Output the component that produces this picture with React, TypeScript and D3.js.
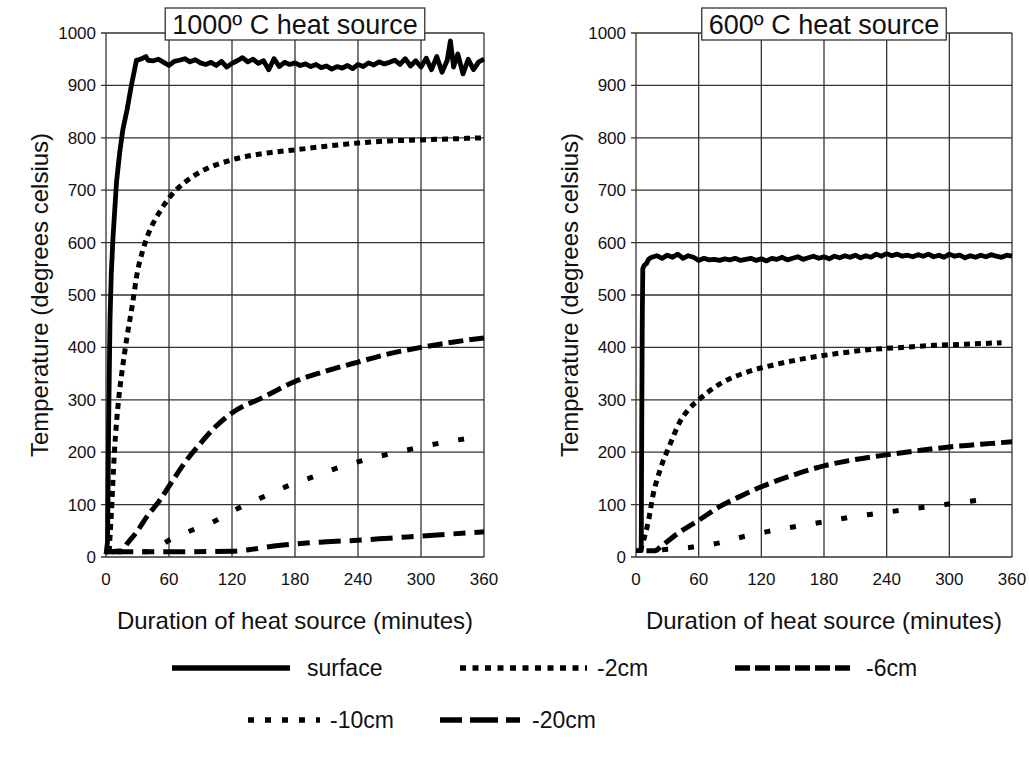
import React, { useRef, useEffect } from 'react';
import * as d3 from 'd3';

// tick labels
const xTicks = [0, 60, 120, 180, 240, 300, 360];
const yTicks = [0, 100, 200, 300, 400, 500, 600, 700, 800, 900, 1000];
const panelTitles = ['1000º C heat source', '600º C heat source'];
const seriesNames = ['surface', '-2cm', '-6cm', '-10cm', '-20cm'];

// [minutes, degrees C]
const surface1000 = [
  [0, 5], [1.5, 30], [2.5, 250], [3.8, 452], [5, 540], [6.7, 611], [10, 715], [13, 771],
  [16, 815], [20, 853], [24, 898], [27, 928], [29, 948], [30, 948], [35, 952], [38, 955],
  [40, 948], [45, 947], [50, 950], [55, 944], [60, 938], [65, 946], [70, 948], [75, 951],
  [80, 945], [85, 949], [90, 943], [95, 940], [100, 944], [105, 938], [110, 946], [115, 935],
  [120, 942], [125, 947], [130, 953], [135, 945], [140, 950], [145, 942], [150, 947],
  [155, 930], [160, 951], [165, 936], [170, 944], [175, 940], [180, 943], [185, 938],
  [190, 941], [195, 936], [200, 940], [205, 934], [210, 937], [215, 931], [220, 936],
  [225, 933], [230, 938], [235, 932], [240, 940], [245, 936], [250, 943], [255, 939],
  [260, 945], [265, 941], [270, 944], [275, 948], [280, 940], [285, 951], [290, 937],
  [295, 947], [300, 935], [305, 952], [310, 930], [315, 955], [320, 925], [325, 948],
  [328, 985], [331, 935], [335, 960], [340, 922], [345, 950], [350, 930], [355, 945], [360, 950],
];
const cm2_1000 = [
  [3, 10], [5, 80], [8, 200], [12, 300], [15, 350], [20, 420], [25, 480], [30, 545],
  [35, 585], [40, 615], [50, 655], [60, 685], [75, 715], [90, 735], [120, 758], [150, 770],
  [180, 777], [210, 784], [240, 790], [270, 794], [300, 796], [330, 798], [360, 800],
];
const cm6_1000 = [
  [2, 10], [15, 12], [20, 25], [30, 50], [40, 80], [50, 105], [60, 135], [75, 180],
  [90, 217], [105, 250], [120, 275], [150, 305], [180, 335], [210, 355], [240, 372],
  [270, 388], [300, 400], [330, 410], [360, 418],
];
const cm10_1000 = [
  [10, 10], [45, 10], [56, 27], [78, 48], [102, 67], [126, 93], [150, 115], [175, 137],
  [200, 155], [225, 173], [250, 187], [275, 199], [300, 210], [325, 220], [350, 228],
];
const cm20_1000 = [
  [5, 10], [60, 10], [120, 11], [140, 15], [160, 21], [180, 25], [210, 29], [240, 32],
  [270, 36], [300, 40], [330, 44], [360, 48],
];

// [minutes, degrees C]
const surface600 = [
  [0, 12], [5, 12], [5.5, 250], [6, 450], [6.5, 550], [8, 557], [10, 560], [12, 568],
  [15, 572], [20, 575], [25, 570], [30, 576], [35, 572], [40, 578], [45, 570], [50, 575],
  [55, 572], [60, 566], [65, 570], [70, 567], [75, 568], [80, 566], [85, 569], [90, 567],
  [95, 570], [100, 566], [105, 568], [110, 570], [115, 566], [120, 569], [125, 565],
  [130, 570], [135, 568], [140, 572], [145, 567], [150, 570], [155, 573], [160, 568],
  [165, 571], [170, 574], [175, 570], [180, 573], [185, 569], [190, 574], [195, 571],
  [200, 575], [205, 572], [210, 576], [215, 571], [220, 575], [225, 572], [230, 578],
  [235, 574], [240, 579], [245, 575], [250, 578], [255, 574], [260, 576], [265, 573],
  [270, 577], [275, 574], [280, 578], [285, 573], [290, 576], [295, 572], [300, 578],
  [305, 574], [310, 576], [315, 571], [320, 575], [325, 572], [330, 576], [335, 573],
  [340, 577], [345, 574], [350, 572], [355, 576], [360, 574],
];
const cm2_600 = [
  [4, 12], [7, 30], [12, 70], [16, 115], [23, 166], [33, 217], [42, 258], [50, 281],
  [60, 300], [80, 330], [105, 352], [135, 368], [165, 380], [195, 389], [225, 396],
  [255, 400], [285, 404], [315, 406], [350, 409],
];
const cm6_600 = [
  [10, 12], [18, 12], [25, 22], [40, 45], [60, 70], [80, 96], [100, 116], [120, 134],
  [150, 156], [180, 174], [210, 186], [240, 195], [270, 203], [300, 210], [330, 215], [360, 220],
];
const cm10_600 = [
  [25, 14], [55, 19], [80, 27], [105, 40], [130, 50], [155, 59], [180, 67], [205, 76],
  [235, 84], [260, 91], [285, 97], [310, 104], [340, 111],
];

const panels = [
  { title: panelTitles[0], series: [surface1000, cm2_1000, cm6_1000, cm10_1000, cm20_1000] },
  { title: panelTitles[1], series: [surface600, cm2_600, cm6_600, cm10_600] },
];

const FONT = '"Liberation Sans", Arial, sans-serif';

const lineStyle = {
  surface: { width: 4.8, dash: null, legendDash: null },
  '-2cm': { width: 5, dash: '6 5', legendDash: '6 6.5' },
  '-6cm': { width: 5, dash: '15 6', legendDash: '15 5' },
  '-10cm': { width: 5, dash: '6 20', legendDash: '6 11' },
  '-20cm': { width: 5, dash: '22 9 12 9', legendDash: '22 8 28 8' },
};

export default function App() {
  const ref = useRef(null);

  useEffect(() => {
    const width = 1029;
    const height = 763;
    const svg = d3.select(ref.current);
    svg.selectAll('*').remove();
    svg.attr('viewBox', `0 0 ${width} ${height}`);

    svg.append('rect').attr('width', width).attr('height', height).attr('fill', '#fff');

    const top = 33;
    const bottom = 557;
    const lefts = [[106, 484], [636, 1012]];

    const y = d3.scaleLinear().domain([0, 1000]).range([bottom, top]);

    panels.forEach((panel, pi) => {
      const [x0, x1] = lefts[pi];
      const x = d3.scaleLinear().domain([0, 360]).range([x0, x1]);
      const g = svg.append('g');

      // grid
      g.selectAll('line.h')
        .data(yTicks)
        .join('line')
        .attr('x1', x0 - 5)
        .attr('x2', x1)
        .attr('y1', d => y(d))
        .attr('y2', d => y(d))
        .attr('stroke', '#333')
        .attr('stroke-width', 1.3);
      g.selectAll('line.v')
        .data(xTicks)
        .join('line')
        .attr('x1', d => x(d))
        .attr('x2', d => x(d))
        .attr('y1', top)
        .attr('y2', bottom)
        .attr('stroke', '#333')
        .attr('stroke-width', 1.3);

      // tick labels
      g.selectAll('text.y')
        .data(yTicks)
        .join('text')
        .attr('x', x0 - 10)
        .attr('y', d => y(d))
        .attr('dy', '0.35em')
        .attr('text-anchor', 'end')
        .attr('font-family', FONT)
        .attr('font-size', 17)
        .attr('fill', '#111')
        .text(d => d);
      g.selectAll('text.x')
        .data(xTicks)
        .join('text')
        .attr('x', d => x(d))
        .attr('y', 579)
        .attr('dy', '0.35em')
        .attr('text-anchor', 'middle')
        .attr('font-family', FONT)
        .attr('font-size', 17)
        .attr('fill', '#111')
        .text(d => d);

      // axis titles
      g.append('text')
        .attr('x', (x0 + x1) / 2)
        .attr('y', 621)
        .attr('dy', '0.35em')
        .attr('text-anchor', 'middle')
        .attr('font-family', FONT)
        .attr('font-size', 24)
        .attr('fill', '#111')
        .text('Duration of heat source (minutes)');
      g.append('text')
        .attr('transform', `translate(${x0 - 66},${(top + bottom) / 2}) rotate(-90)`)
        .attr('dy', '0.35em')
        .attr('text-anchor', 'middle')
        .attr('font-family', FONT)
        .attr('font-size', 24)
        .attr('fill', '#111')
        .text('Temperature (degrees celsius)');

      // series
      panel.series.forEach((data, si) => {
        const st = lineStyle[seriesNames[si]];
        const line = d3
          .line()
          .x(d => x(d[0]))
          .y(d => y(d[1]))
          .curve(si === 0 ? d3.curveLinear : d3.curveMonotoneX);
        g.append('path')
          .datum(data)
          .attr('fill', 'none')
          .attr('stroke', '#000')
          .attr('stroke-width', st.width)
          .attr('stroke-linejoin', 'round')
          .attr('stroke-dasharray', st.dash)
          .attr('d', line);
      });

      // title box
      const tg = g.append('g');
      const title = tg
        .append('text')
        .attr('x', (x0 + x1) / 2)
        .attr('y', 24)
        .attr('dy', '0.36em')
        .attr('text-anchor', 'middle')
        .attr('font-family', FONT)
        .attr('font-size', 27)
        .attr('fill', '#111')
        .text(panel.title);
      const tw = (title.node() as SVGTextElement).getComputedTextLength();
      tg.insert('rect', 'text')
        .attr('x', (x0 + x1) / 2 - tw / 2 - 7)
        .attr('y', 8)
        .attr('width', tw + 14)
        .attr('height', 32)
        .attr('fill', '#fff')
        .attr('stroke', '#333')
        .attr('stroke-width', 1.3);
    });

    // legend
    const legendPos = [
      { x: 172, y: 668, len: 118, tx: 307 },
      { x: 460, y: 668, len: 127, tx: 597 },
      { x: 735, y: 668, len: 117, tx: 866 },
      { x: 248, y: 720, len: 72, tx: 330 },
      { x: 440, y: 720, len: 80, tx: 532 },
    ];
    seriesNames.forEach((name, i) => {
      const p = legendPos[i];
      const st = lineStyle[name];
      svg
        .append('line')
        .attr('x1', p.x)
        .attr('x2', p.x + p.len)
        .attr('y1', p.y)
        .attr('y2', p.y)
        .attr('stroke', '#000')
        .attr('stroke-width', st.width + 0.5)
        .attr('stroke-dasharray', st.legendDash);
      svg
        .append('text')
        .attr('x', p.tx)
        .attr('y', p.y)
        .attr('dy', '0.35em')
        .attr('font-family', FONT)
        .attr('font-size', 23)
        .attr('fill', '#111')
        .text(name);
    });
  }, []);

  return (
    <svg
      ref={ref}
      width={1029}
      height={763}
      style={{ position: 'absolute', left: 0, top: 0, display: 'block' }}
    />
  );
}
